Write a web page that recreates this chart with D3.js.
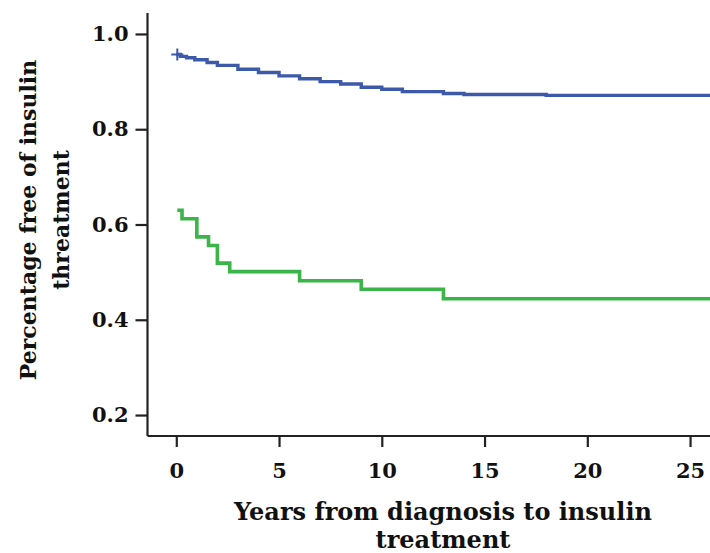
<!DOCTYPE html>
<html>
<head>
<meta charset="utf-8">
<script src="https://cdn.jsdelivr.net/npm/d3@7"></script>
<style>
  html, body { margin: 0; padding: 0; background: #fff; }
  svg text { font-family: "DejaVu Serif", "Liberation Serif", serif; font-weight: bold; fill: #111; }
</style>
</head>
<body>
<div id="chart"></div>
<script>
// Kaplan-Meier style step curves
const blueTimes  = [0, 0.2, 0.5, 0.9, 1.5, 2, 3, 4, 5, 6, 7, 8, 9, 10, 11, 13, 14, 18, 26];
const blueValues = [0.957, 0.953, 0.950, 0.946, 0.940, 0.934, 0.926, 0.919, 0.912, 0.906, 0.900, 0.895, 0.888, 0.884, 0.879, 0.875, 0.873, 0.871, 0.871];

const greenTimes  = [0.05, 0.28, 1.0, 1.57, 2.0, 2.6, 6.0, 9.0, 13.0, 26];
const greenValues = [0.630, 0.612, 0.574, 0.556, 0.519, 0.501, 0.482, 0.464, 0.444, 0.444];

const censorTimes  = [0.05];
const censorValues = [0.957];

const xTicks = [0, 5, 10, 15, 20, 25];
const yTicks = [0.2, 0.4, 0.6, 0.8, 1.0];

const width = 710, height = 553;

const svg = d3.select('#chart').append('svg')
  .attr('width', width)
  .attr('height', height);

// Plot area: y axis at 147, x axis at 436
const x = d3.scaleLinear().domain([-1.4, 25.97]).range([147.5, 710]);
const y = d3.scaleLinear().domain([0.156, 1.044]).range([436, 13]);

// Axes
const xAxis = svg.append('g')
  .attr('transform', `translate(0,${y.range()[0]})`)
  .call(d3.axisBottom(x).tickValues(xTicks).tickSize(11).tickPadding(16).tickFormat(d3.format('d')));
xAxis.select('.domain').attr('d', `M${x.range()[0]},0H${x.range()[1]}`);

const yAxis = svg.append('g')
  .attr('transform', `translate(${x.range()[0]},0)`)
  .call(d3.axisLeft(y).tickValues(yTicks).tickSize(12).tickPadding(7).tickFormat(d3.format('.1f')));
yAxis.select('.domain').attr('d', `M0,${y.range()[1]}V${y.range()[0]}`);

svg.selectAll('.domain, .tick line')
  .attr('stroke', '#222')
  .attr('stroke-width', 2.2);
xAxis.selectAll('.tick text').style('font-size', '21px');
yAxis.selectAll('.tick text').style('font-size', '21px');

// Step lines
const step = d3.line()
  .x(d => x(d[0]))
  .y(d => y(d[1]))
  .curve(d3.curveStepAfter);

svg.append('path')
  .datum(d3.zip(greenTimes, greenValues))
  .attr('fill', 'none')
  .attr('stroke', '#3bb54a')
  .attr('stroke-width', 3.6)
  .attr('d', step);

svg.append('path')
  .datum(d3.zip(blueTimes, blueValues))
  .attr('fill', 'none')
  .attr('stroke', '#3d5aaa')
  .attr('stroke-width', 3.4)
  .attr('d', step);

// Censor marks
svg.selectAll('.censor')
  .data(d3.zip(censorTimes, censorValues))
  .join('path')
  .attr('class', 'censor')
  .attr('fill', 'none')
  .attr('stroke', '#3d5aaa')
  .attr('stroke-width', 2)
  .attr('d', d => {
    const cx = x(d[0]), cy = y(d[1]);
    return `M${cx - 6},${cy}H${cx + 6}M${cx},${cy - 6}V${cy + 6}`;
  });

// Axis titles (two separate lines)
svg.append('text')
  .attr('text-anchor', 'middle')
  .attr('x', 443).attr('y', 520)
  .style('font-size', '24px')
  .text('Years from diagnosis to insulin');
svg.append('text')
  .attr('text-anchor', 'middle')
  .attr('x', 443).attr('y', 548)
  .style('font-size', '24px')
  .text('treatment');

const yTitle = svg.append('g')
  .attr('transform', 'translate(0,220) rotate(-90)');
yTitle.append('text')
  .attr('text-anchor', 'middle')
  .attr('x', 0).attr('y', 36)
  .style('font-size', '22px')
  .text('Percentage free of insulin');
yTitle.append('text')
  .attr('text-anchor', 'middle')
  .attr('x', 0).attr('y', 69)
  .style('font-size', '22px')
  .text('threatment');
</script>
</body>
</html>
